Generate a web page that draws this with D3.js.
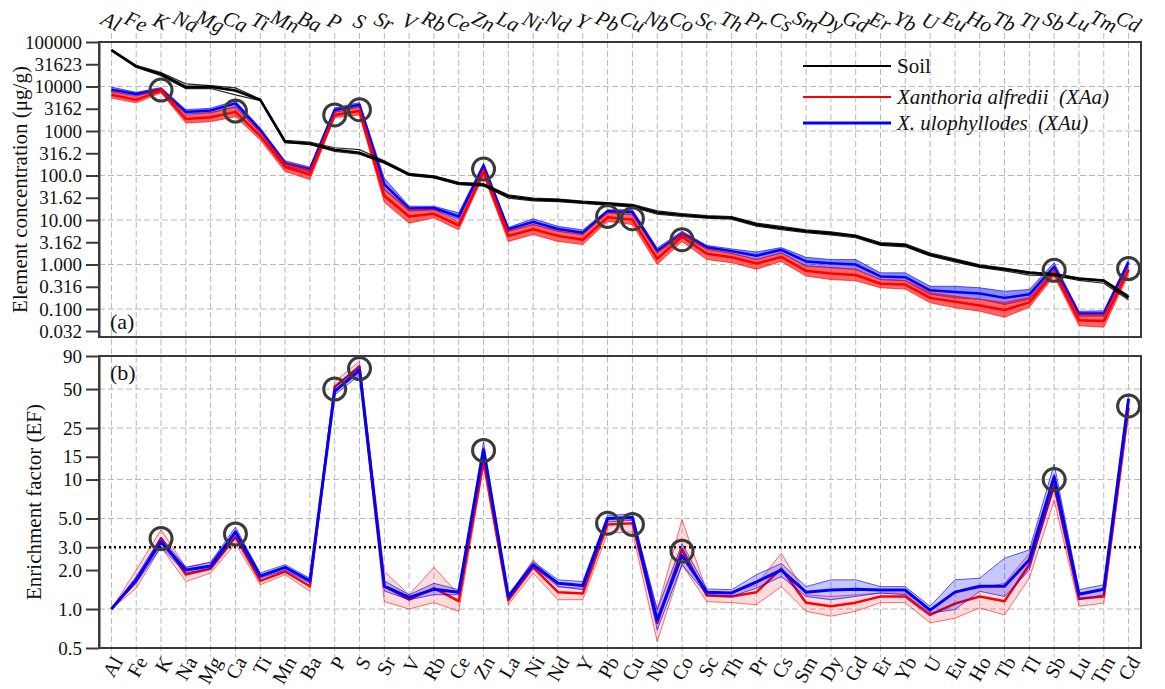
<!DOCTYPE html>
<html>
<head>
<meta charset="utf-8">
<script src="https://cdn.jsdelivr.net/npm/d3@7"></script>
<style>
  body { margin: 0; background: #fff; }
  #chart, #chart text { font-family: 'Liberation Serif', Tinos, 'Times New Roman', 'DejaVu Serif', serif !important; }
  #chart text { fill: #111; }
</style>
</head>
<body>
<svg id="chart" width="1165" height="689" font-family="Liberation Serif, serif"></svg>
<script>
// Elements, ordered by decreasing soil concentration
const elements = ["Al","Fe","K","Na","Mg","Ca","Ti","Mn","Ba","P","S","Sr","V","Rb","Ce","Zn","La","Ni","Nd","Y","Pb","Cu","Nb","Co","Sc","Th","Pr","Cs","Sm","Dy","Gd","Er","Yb","U","Eu","Ho","Tb","Tl","Sb","Lu","Tm","Cd"];

// (a) Element concentrations, µg/g
const soilConc1 = [66000,28000,19000,9800,9800,8100,5000,575,515,380,325,200,105,93,66,62,34,29,28,25,23,21,14.7,13,11.7,11.2,7.9,6.6,5.6,5.0,4.3,2.9,2.7,1.66,1.25,0.92,0.78,0.65,0.60,0.48,0.43,0.18];
const soilConc2 = [68000,30000,20500,11500,10500,9300,5200,620,560,420,380,215,112,98,70,66,37,31,29.5,26.5,24.5,22.5,16,14,12.5,12,8.5,7.2,6.0,5.4,4.6,3.1,2.9,1.8,1.35,0.98,0.83,0.68,0.62,0.50,0.45,0.20];
const soilConc3 = [63000,27000,17500,9000,9000,6500,4800,550,500,350,300,190,100,88,62,58,31,27,26,23.5,21.5,19.5,13.5,12,11,10.5,7.3,6.1,5.2,4.6,4.0,2.7,2.5,1.55,1.15,0.86,0.72,0.58,0.56,0.44,0.38,0.16];

const xaaConcLow  = [5500,4300,7200,1510,1620,2090,630,123,81,2000,2290,25,8.5,11.2,6.0,100,3.3,4.7,3.3,2.8,9.3,7.9,1.0,3.3,1.29,1.10,0.78,1.17,0.55,0.46,0.43,0.30,0.28,0.138,0.107,0.089,0.065,0.11,0.55,0.042,0.039,0.60];
const xaaConcMid  = [6500,5000,8100,1860,2040,2690,776,155,105,2290,2820,35,12,13.8,7.6,120,4.4,6.2,4.4,3.6,11.5,10.2,1.35,4.2,1.74,1.45,1.05,1.48,0.72,0.63,0.58,0.37,0.355,0.178,0.145,0.12,0.095,0.141,0.66,0.056,0.054,0.76];
const xaaConcHigh = [7800,5900,9300,2290,2570,3470,955,195,135,2690,3470,50,17,17,9.3,148,5.6,7.9,5.6,4.7,14.5,13.2,1.82,5.2,2.19,1.78,1.29,1.82,0.91,0.85,0.78,0.46,0.44,0.234,0.195,0.166,0.141,0.182,0.78,0.076,0.076,0.91];

const xauConcLow  = [7600,6200,7900,2400,2570,3470,930,166,120,2630,3470,48,15.8,17,10.2,145,5.5,7.9,5.6,4.7,14.5,13.2,1.82,4.5,2.19,1.78,1.29,1.82,0.93,0.85,0.78,0.46,0.43,0.214,0.178,0.166,0.126,0.166,0.74,0.069,0.069,0.95];
const xauConcMid  = [8500,6800,8700,2690,2880,4170,1050,190,138,2950,3890,63,18.2,18.6,12,166,6.2,9.1,6.3,5.2,15.8,15.1,2.04,5.0,2.45,2.0,1.58,2.14,1.17,1.07,1.0,0.54,0.52,0.263,0.24,0.224,0.178,0.214,0.89,0.079,0.079,1.12];
const xauConcHigh = [9700,7400,9500,3020,3240,4790,1170,214,155,3310,4370,87,20.4,20.4,14.5,190,6.8,10.7,7.2,6.0,17,17,2.34,5.6,2.69,2.24,1.91,2.40,1.45,1.29,1.29,0.65,0.65,0.324,0.324,0.30,0.25,0.275,1.10,0.089,0.091,1.29];

// (b) Enrichment factors relative to soil (Al-normalised)
const xaaEfLow  = [1,1.45,3.0,1.63,1.9,3.2,1.54,1.84,1.37,48,66,1.14,1.0,1.12,0.96,12.5,1.08,1.89,1.18,1.18,3.85,3.95,0.56,2.2,1.14,1.12,1.08,1.49,0.96,0.88,0.96,1.12,1.12,0.78,0.85,1.02,0.90,1.73,6.9,1.05,1.11,32];
const xaaEfMid  = [1,1.65,3.5,1.85,2.05,3.6,1.65,1.95,1.5,52,74,1.5,1.18,1.45,1.15,14,1.17,2.1,1.35,1.32,4.5,4.6,0.78,2.9,1.27,1.25,1.35,2.05,1.12,1.05,1.12,1.25,1.25,0.9,1.1,1.25,1.15,2.2,9.0,1.2,1.25,36];
const xaaEfHigh = [1,2.0,4.1,2.1,2.3,4.0,1.78,2.08,1.63,57,82,1.95,1.29,2.1,1.29,15.5,1.25,2.4,1.49,1.45,5.0,5.0,0.99,4.9,1.37,1.33,1.54,2.7,1.29,1.25,1.29,1.33,1.33,0.99,1.37,1.45,1.58,2.7,11,1.33,1.41,41];

const xauEfLow  = [1,1.58,3.0,1.9,2.05,3.6,1.73,2.0,1.58,45,64,1.38,1.18,1.29,1.29,15.5,1.18,2.13,1.49,1.41,4.7,4.85,0.69,2.2,1.29,1.25,1.45,1.78,1.25,1.18,1.25,1.33,1.29,0.93,0.99,1.37,1.25,2.0,8.8,1.18,1.29,38];
const xauEfMid  = [1,1.68,3.3,2.0,2.15,3.95,1.8,2.1,1.65,48,70,1.5,1.23,1.42,1.35,17,1.25,2.2,1.58,1.52,5.0,5.1,0.82,2.6,1.35,1.33,1.62,2.0,1.35,1.4,1.42,1.4,1.4,0.98,1.35,1.5,1.5,2.4,10.5,1.3,1.42,42];
const xauEfHigh = [1,1.78,3.6,2.1,2.3,4.3,1.9,2.2,1.73,52,77,1.65,1.29,1.58,1.41,19.5,1.29,2.33,1.68,1.63,5.3,5.4,0.99,3.2,1.43,1.41,1.84,2.25,1.49,1.68,1.68,1.49,1.49,1.05,1.68,1.73,2.47,2.86,13.2,1.41,1.54,46];

// Highlighted (enriched) elements
const markedElements = ["K","Ca","P","S","Zn","Pb","Cu","Co","Sb","Cd"];
const markedConc = [8300,2800,2300,3000,140,12,10.7,3.6,0.74,0.81];
const markedEf   = [3.5,3.8,50,72,16.8,4.6,4.5,2.8,10,37];

// Axis ticks
const concTicks = [100000,31623,10000,3162,1000,316.2,100,31.62,10,3.162,1,0.316,0.1,0.032];
const concTickLabels = ["100000","31623","10000","3162","1000","316.2","100.0","31.62","10.00","3.162","1.000","0.316","0.100","0.032"];
const concGrid = [10000,1000,100,10,1,0.1];
const efTicks = [0.5,1,2,3,5,10,15,25,50,90];
const efTickLabels = ["0.5","1.0","2.0","3.0","5.0","10","15","25","50","90"];
const efGrid = [50,25,10,5,1];
const efThreshold = 3;

const seriesNames = ["Soil", "Xanthoria alfredii  (XAa)", "X. ulophyllodes  (XAu)"];
const RED = "#ff0000", BLUE = "#0000ff", FRAME = "#3a3a3a", GRID = "#b8b8b8";
const SERIF = "'Liberation Serif', Tinos, 'Times New Roman', 'DejaVu Serif', serif";

const svg = d3.select("#chart");
const L = 99, R = 1141;
const A = { top: 42, bottom: 337 };
const B = { top: 356, bottom: 648 };

const x = d3.scalePoint().domain(elements).range([L, R]).padding(0.5);
const yA = d3.scaleLog().domain([0.0235, 100000]).range([A.bottom, A.top]);
const yB = d3.scaleLog().domain([0.5, 90]).range([B.bottom, B.top]);

// vertical dashed grid running through both panels
svg.append("g").selectAll("line").data(elements).join("line")
  .attr("x1", d => x(d)).attr("x2", d => x(d))
  .attr("y1", 33).attr("y2", 657)
  .attr("stroke", GRID).attr("stroke-width", 1).attr("stroke-dasharray", "6,3");

function hGrid(y, vals) {
  svg.append("g").selectAll("line").data(vals).join("line")
    .attr("x1", L).attr("x2", R)
    .attr("y1", d => y(d)).attr("y2", d => y(d))
    .attr("stroke", GRID).attr("stroke-width", 1).attr("stroke-dasharray", "6,3");
}
hGrid(yA, concGrid);
hGrid(yB, efGrid);

function band(y, lo, mid, hi, color, fillOp, edgeW, midW) {
  const g = svg.append("g");
  const xi = (d, i) => x(elements[i]);
  g.append("path").datum(lo)
    .attr("d", d3.area().x(xi).y0((d, i) => y(lo[i])).y1((d, i) => y(hi[i])))
    .attr("fill", color).attr("fill-opacity", fillOp).attr("stroke", "none");
  const line = d3.line().x(xi).y(d => y(d));
  [lo, hi].forEach(arr => g.append("path").datum(arr).attr("d", line)
    .attr("fill", "none").attr("stroke", color).attr("stroke-width", edgeW).attr("stroke-opacity", 0.8));
  g.append("path").datum(mid).attr("d", line)
    .attr("fill", "none").attr("stroke", color).attr("stroke-width", midW).attr("stroke-linejoin", "round");
}

function circles(y, vals) {
  svg.append("g").selectAll("circle").data(markedElements).join("circle")
    .attr("cx", d => x(d)).attr("cy", (d, i) => y(vals[i])).attr("r", 11)
    .attr("fill", "none").attr("stroke", FRAME).attr("stroke-width", 3);
}

// ---- panel (a)
band(yA, xauConcLow, xauConcMid, xauConcHigh, BLUE, 0.45, 0.8, 2.5);
band(yA, xaaConcLow, xaaConcMid, xaaConcHigh, RED, 0.6, 0.8, 2.5);
const soilLine = d3.line().x((d, i) => x(elements[i])).y(d => yA(d));
[soilConc2, soilConc3].forEach(s => svg.append("path").datum(s).attr("d", soilLine)
  .attr("fill", "none").attr("stroke", "#000").attr("stroke-width", 1.2).attr("stroke-opacity", 0.85));
svg.append("path").datum(soilConc1).attr("d", soilLine)
  .attr("fill", "none").attr("stroke", "#000").attr("stroke-width", 2.6);
circles(yA, markedConc);

// ---- panel (b)
band(yB, xaaEfLow, xaaEfMid, xaaEfHigh, RED, 0.14, 0.7, 2.5);
band(yB, xauEfLow, xauEfMid, xauEfHigh, BLUE, 0.22, 0.8, 3);
svg.append("line")
  .attr("x1", L).attr("x2", R).attr("y1", yB(efThreshold)).attr("y2", yB(efThreshold))
  .attr("stroke", "#000").attr("stroke-width", 2.5).attr("stroke-dasharray", "2,3");
circles(yB, markedEf);

// frames and axes
[A, B].forEach(p => svg.append("rect")
  .attr("x", L).attr("y", p.top).attr("width", R - L).attr("height", p.bottom - p.top)
  .attr("fill", "none").attr("stroke", FRAME).attr("stroke-width", 2));

function yAxis(y, ticks, labels) {
  const g = svg.append("g").attr("transform", `translate(${L},0)`)
    .call(d3.axisLeft(y).tickValues(ticks).tickFormat((d, i) => labels[i]).tickSize(13).tickSizeOuter(0).tickPadding(4));
  g.attr("font-family", null).style("font-family", SERIF);
  g.select(".domain").attr("stroke", FRAME).attr("stroke-width", 2);
  g.selectAll(".tick line").attr("stroke", FRAME).attr("stroke-width", 2);
  g.selectAll(".tick text").attr("font-size", 19).style("font-family", SERIF).attr("fill", "#111");
}
yAxis(yA, concTicks, concTickLabels);
yAxis(yB, efTicks, efTickLabels);

// element labels, top (italic) and bottom
svg.append("g").selectAll("text").data(elements).join("text")
  .attr("transform", d => `translate(${x(d)},21) rotate(25)`)
  .attr("text-anchor", "middle").attr("dy", "0.35em")
  .attr("font-size", 21).attr("font-style", "italic").style("font-family", SERIF).text(d => d);
svg.append("g").selectAll("text").data(elements).join("text")
  .attr("transform", d => `translate(${x(d) + 6},658) rotate(-60)`)
  .attr("text-anchor", "end").attr("dy", "0.35em")
  .attr("font-size", 20).style("font-family", SERIF).text(d => d);

// axis titles and panel tags
svg.append("text").attr("transform", `translate(20,${(A.top + A.bottom) / 2}) rotate(-90)`)
  .attr("text-anchor", "middle").attr("dy", "0.35em").attr("font-size", 21).style("font-family", SERIF)
  .text("Element concentration (μg/g)");
svg.append("text").attr("transform", `translate(34,${(B.top + B.bottom) / 2}) rotate(-90)`)
  .attr("text-anchor", "middle").attr("dy", "0.35em").attr("font-size", 21).style("font-family", SERIF)
  .text("Enrichment factor (EF)");
svg.append("text").attr("x", 110).attr("y", 329).attr("font-size", 22).style("font-family", SERIF).text("(a)");
svg.append("text").attr("x", 110).attr("y", 380).attr("font-size", 22).style("font-family", SERIF).text("(b)");

// legend
const legendRows = [
  { y: 66, color: "#000", w: 2, italic: false },
  { y: 97, color: RED, w: 2, italic: true },
  { y: 123, color: BLUE, w: 3, italic: true }
];
legendRows.forEach((r, i) => {
  svg.append("line").attr("x1", 803).attr("x2", 891).attr("y1", r.y).attr("y2", r.y)
    .attr("stroke", r.color).attr("stroke-width", r.w);
  svg.append("text").attr("x", 897).attr("y", r.y).attr("dy", "0.35em")
    .attr("font-size", 21).attr("font-style", r.italic ? "italic" : "normal")
    .style("font-family", SERIF).style("white-space", "pre").text(seriesNames[i]);
});
</script>
</body>
</html>
